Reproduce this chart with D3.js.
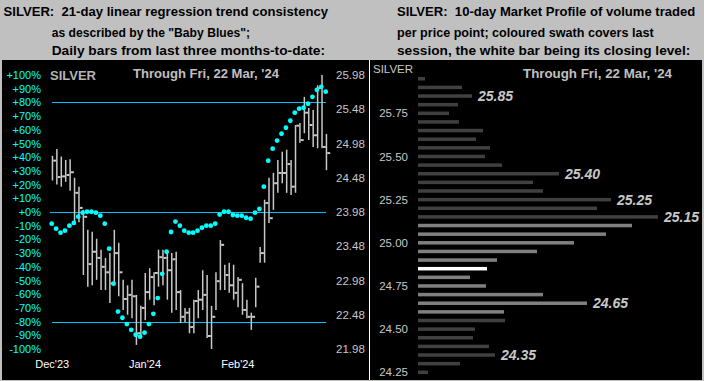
<!DOCTYPE html>
<html>
<head>
<meta charset="utf-8">
<script src="https://cdn.jsdelivr.net/npm/d3@7"></script>
<style>
  body { margin: 0; background: #c0c0c0; }
  svg { display: block; }
  text { font-family: "Liberation Sans", Arial, sans-serif; }
</style>
</head>
<body>
<svg id="chart"></svg>
<script>
// ---- left panel: daily bars + Baby Blues ----
var high = [24.80,24.90,24.79,24.74,24.75,24.48,24.35,24.01,23.72,23.69,23.59,23.43,23.31,23.38,23.72,23.53,22.99,22.91,22.99,22.77,22.61,23.09,23.16,23.10,23.43,23.43,23.40,23.38,23.40,22.84,22.58,22.58,22.70,22.84,23.13,23.06,22.61,23.10,23.57,23.21,23.24,23.21,23.03,22.94,22.70,22.51,23.02,23.47,24.16,24.48,24.55,24.74,24.86,24.89,24.74,25.25,25.28,25.66,25.50,25.47,25.83,25.98,25.12];
var low = [24.44,24.38,24.35,24.42,24.29,23.79,23.83,23.06,22.89,22.91,22.99,22.84,22.84,22.65,22.91,22.75,22.55,22.48,22.43,22.04,22.14,22.40,22.70,22.62,22.89,22.91,22.70,22.51,22.55,22.36,22.37,22.21,22.21,22.43,22.55,22.14,21.98,22.55,22.84,22.84,22.80,22.70,22.59,22.48,22.43,22.26,22.59,23.24,23.24,23.82,24.01,24.26,24.40,24.26,24.23,24.26,24.99,25.13,25.03,24.93,24.91,24.91,24.59];
var close = [24.73,24.49,24.50,24.52,24.56,24.26,24.04,23.91,23.22,23.40,23.31,23.18,23.10,22.94,23.38,23.10,22.71,22.77,22.75,22.21,22.58,22.81,23.03,23.09,23.32,23.31,23.13,23.29,22.81,22.45,22.51,22.30,22.68,22.70,22.77,22.17,22.45,22.97,23.50,23.06,22.91,22.80,22.99,22.55,22.45,22.45,22.89,23.38,24.11,23.89,24.40,24.55,24.55,24.68,24.35,25.24,25.03,25.43,25.25,25.10,25.79,24.93,24.84];
var blues = [-8.5,-12.2,-15.1,-13.6,-10,-8,-3.4,-0.5,0.2,0.2,-0.5,-2.7,-8.5,-26.8,-52.3,-72.7,-77.2,-81.8,-86,-89.6,-91,-88.1,-81.8,-74.3,-62.8,-45.1,-29,-14.6,-7,-10,-13.6,-15.1,-15.1,-13.6,-11.5,-10,-10,-8.5,-1.9,0.2,0.2,-2.2,-2.7,-2.7,-4.2,-4.9,-0.5,2.2,18.5,37.5,46.2,52.1,57.1,61.5,66.6,72.5,75.4,76.1,79,84.1,89.2,91.4,87.8];
var months = ["Dec'23", "Jan'24", "Feb'24"];
var monthIdx = [0, 21, 42];
var pctTicks = [100,90,80,70,60,50,40,30,20,10,0,-10,-20,-30,-40,-50,-60,-70,-80,-90,-100];
var pctLines = [80, 0, -80];
var priceTicks = [25.98,25.48,24.98,24.48,23.98,23.48,22.98,22.48,21.98];

// ---- right panel: market profile ----
var profPrice = [25.95,25.90,25.85,25.80,25.75,25.70,25.65,25.60,25.55,25.50,25.45,25.40,25.35,25.30,25.25,25.20,25.15,25.10,25.05,25.00,24.95,24.90,24.85,24.80,24.75,24.70,24.65,24.60,24.55,24.50,24.45,24.40,24.35,24.30,24.25];
var profVol = [7,44,54,40,31,41,65,58,72,67,84,141,115,125,193,179,240,214,188,156,119,79,69,52,68,125,169,86,87,57,55,71,77,42,10];
var profTicks = [25.75,25.50,25.25,25.00,24.75,24.50,24.25];
var profLabels = [25.85,25.40,25.25,25.15,24.65,24.35];
var lastLow = 24.60, lastHigh = 25.10, lastClose = 24.85;

var svg = d3.select("#chart").attr("width", 704).attr("height", 381);

svg.append("rect").attr("width", 704).attr("height", 381).attr("fill", "#c0c0c0");
svg.append("rect").attr("x", 2).attr("y", 60).attr("width", 700).attr("height", 320).attr("fill", "#000");
svg.append("line").attr("x1", 369.5).attr("x2", 369.5).attr("y1", 60).attr("y2", 380)
    .attr("stroke", "#fff").attr("stroke-width", 1);

// titles
function title(lines, x0, widths, ys) {
    lines.forEach(function (t, i) {
        svg.append("text")
            .attr("x", x0[i]).attr("y", ys[i])
            .attr("font-size", 13.5).attr("font-weight", "bold").attr("fill", "#000")
            .attr("textLength", widths[i]).attr("lengthAdjust", "spacingAndGlyphs")
            .style("white-space", "pre")
            .text(t);
    });
}
title(["SILVER:  21-day linear regression trend consistency",
       "as described by the \"Baby Blues\";",
       "Daily bars from last three months-to-date:"],
      [3.5, 51.7, 51.7], [324.5, 198.3, 273.3], [15.5, 36.5, 55]);
title(["SILVER:  10-day Market Profile of volume traded",
       "per price point; coloured swath covers last",
       "session, the white bar being its closing level:"],
      [397, 397, 397], [298.3, 256.7, 293.3], [15.5, 36.5, 55]);

// ---- left chart ----
var x = d3.scaleLinear().domain([0, close.length - 1]).range([51.7, 325.7]);
var y = d3.scaleLinear().domain([21.98, 25.98]).range([349, 75]);
var yPct = d3.scaleLinear().domain([-100, 100]).range([349, 75]);

svg.append("text").attr("x", 50).attr("y", 80).attr("font-size", 13).attr("font-weight", "bold")
    .attr("fill", "#b4b4b4").text("SILVER");
svg.append("text").attr("x", 133).attr("y", 78).attr("font-size", 13).attr("font-weight", "bold")
    .attr("fill", "#c0c0c0").attr("textLength", 146).attr("lengthAdjust", "spacingAndGlyphs")
    .text("Through Fri, 22 Mar, '24");

svg.append("g").selectAll("line").data(pctLines).join("line")
    .attr("x1", function (d) { return d === 0 ? 50 : 52; }).attr("x2", 326)
    .attr("y1", function (d) { return Math.round(yPct(d)) + 0.5; })
    .attr("y2", function (d) { return Math.round(yPct(d)) + 0.5; })
    .attr("stroke", "#00c0ff").attr("stroke-width", 1);

var pctAxis = svg.append("g").attr("transform", "translate(41,0)")
    .call(d3.axisLeft(yPct).tickValues(pctTicks).tickSize(0).tickPadding(0)
        .tickFormat(function (d) { return d > 0 ? "+" + d + "%" : d === 0 ? "+0%" : d + "%"; }));
pctAxis.select(".domain").remove();
pctAxis.selectAll("text").attr("fill", "#00ffff").attr("font-size", 11)
    .style("font-family", "'Liberation Sans', Arial, sans-serif");

var priceAxis = svg.append("g").attr("transform", "translate(336,0)")
    .call(d3.axisRight(y).tickValues(priceTicks).tickSize(0).tickPadding(0).tickFormat(d3.format(".2f")));
priceAxis.select(".domain").remove();
priceAxis.selectAll("text").attr("fill", "#c8c8c8").attr("font-size", 11.5)
    .style("font-family", "'Liberation Sans', Arial, sans-serif");

var monthAxis = svg.append("g").attr("transform", "translate(0,360)")
    .call(d3.axisBottom(x).tickValues(monthIdx).tickSize(0).tickPadding(0)
        .tickFormat(function (d, i) { return months[i]; }));
monthAxis.select(".domain").remove();
monthAxis.selectAll("text").attr("fill", "#fff").attr("font-size", 11)
    .style("font-family", "'Liberation Sans', Arial, sans-serif");

var bars = svg.append("g");
bars.selectAll("line.hl").data(close).join("line").attr("class", "hl")
    .attr("x1", function (d, i) { return x(i) + 0.75; })
    .attr("x2", function (d, i) { return x(i) + 0.75; })
    .attr("y1", function (d, i) { return y(high[i]); })
    .attr("y2", function (d, i) { return y(low[i]); })
    .attr("stroke", "#c8c8c8").attr("stroke-width", 1.5);
bars.selectAll("line.cl").data(close).join("line").attr("class", "cl")
    .attr("x1", function (d, i) { return x(i) + 1.5; })
    .attr("x2", function (d, i) { return x(i) + 4.5; })
    .attr("y1", function (d) { return y(d); })
    .attr("y2", function (d) { return y(d); })
    .attr("stroke", "#c8c8c8").attr("stroke-width", 2);

svg.append("g").selectAll("circle").data(blues).join("circle")
    .attr("cx", function (d, i) { return x(i); })
    .attr("cy", function (d) { return yPct(d); })
    .attr("r", 2.4).attr("fill", "#00ffff");

// ---- right chart ----
var py = d3.scaleLinear().domain([24.25, 25.75]).range([372.3, 113.3]);
var vx = d3.scaleLinear().domain([0, 240]).range([418, 658]);

svg.append("text").attr("x", 373).attr("y", 73).attr("font-size", 11.5)
    .attr("fill", "#c8c8c8").text("SILVER");
svg.append("text").attr("x", 523).attr("y", 78).attr("font-size", 13).attr("font-weight", "bold")
    .attr("fill", "#c0c0c0").attr("textLength", 149).attr("lengthAdjust", "spacingAndGlyphs")
    .text("Through Fri, 22 Mar, '24");

var profAxis = svg.append("g").attr("transform", "translate(408,0)")
    .call(d3.axisLeft(py).tickValues(profTicks).tickSize(0).tickPadding(0).tickFormat(d3.format(".2f")));
profAxis.select(".domain").remove();
profAxis.selectAll("text").attr("fill", "#c8c8c8").attr("font-size", 11.5)
    .style("font-family", "'Liberation Sans', Arial, sans-serif");

svg.append("g").selectAll("rect").data(profPrice).join("rect")
    .attr("x", vx(0))
    .attr("y", function (d) { return py(d) - 1.75; })
    .attr("width", function (d, i) { return vx(profVol[i]) - vx(0); })
    .attr("height", 3.5)
    .attr("fill", function (d) {
        if (Math.abs(d - lastClose) < 0.001) return "#ffffff";
        if (d >= lastLow - 0.001 && d <= lastHigh + 0.001) return "#808080";
        return "#404040";
    });

svg.append("g").selectAll("text").data(profLabels).join("text")
    .attr("x", function (d) { return vx(profVol[profPrice.indexOf(d)]) + 6; })
    .attr("y", function (d) { return py(d); })
    .attr("dy", "0.35em")
    .attr("font-size", 14).attr("font-weight", "bold").attr("font-style", "italic")
    .attr("fill", "#c8c8c8")
    .text(function (d) { return d.toFixed(2); });
</script>
</body>
</html>
